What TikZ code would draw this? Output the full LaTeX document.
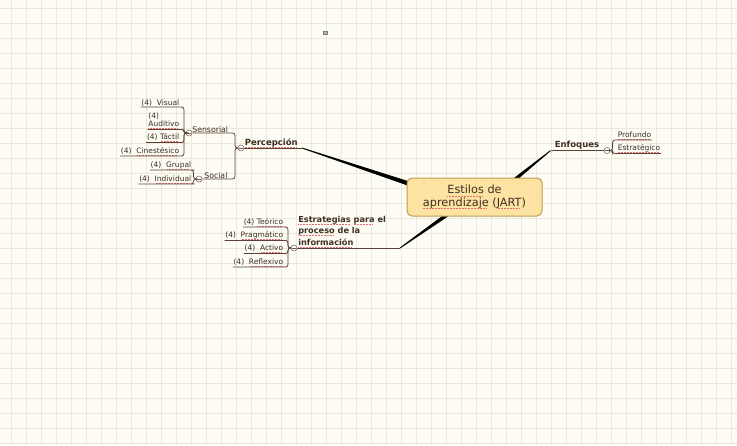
\documentclass[tikz,border=0pt]{standalone}
\usepackage{fontspec}
\setmainfont{DejaVu Sans}
\usetikzlibrary{calc}
\definecolor{bgc}{HTML}{FDFDF6}
\definecolor{gridc}{HTML}{ECE8DA}
\definecolor{txt}{HTML}{3E2E22}
\definecolor{ulc}{HTML}{5A4035}
\definecolor{splred}{HTML}{E07070}
\definecolor{boxfill}{HTML}{FCE3A2}
\definecolor{boxdraw}{HTML}{C09A55}
\definecolor{circc}{HTML}{6A5A50}
\newlength\sqlen
\newcommand\sq[1]{\settowidth\sqlen{#1}\rlap{#1}{\color{splred}\leaders\hbox{\raisebox{-0.45ex}{\rule{0.9pt}{0.45pt}}\kern0.6pt}\hskip\sqlen}}
\newcommand\taper[4]{%
  \fill[black] ($(#1)!#3!90:(#2)$) -- ($(#2)!#4!-90:(#1)$) -- ($(#2)!#4!90:(#1)$) -- ($(#1)!#3!-90:(#2)$) -- cycle;}
\tikzset{
  leaf/.style={inner sep=0.6pt, text=txt, font=\fontsize{7.5}{8.6}\selectfont},
  sub/.style={inner sep=0.6pt, text=txt, font=\fontsize{7.8}{9}\selectfont},
  topic/.style={inner sep=0.6pt, text=txt, font=\bfseries\fontsize{8.5}{9.5}\selectfont},
  ul/.style={draw=ulc, line width=0.8pt, rounded corners=2.5pt},
  collapse/.style={circle, draw=circc, fill=white, minimum size=6pt, inner sep=0pt, line width=0.5pt,
    path picture={\draw[circc, line width=0.5pt] ([xshift=1.4pt]path picture bounding box.west) -- ([xshift=-1.4pt]path picture bounding box.east);}},
  central/.style={draw=boxdraw, fill=boxfill, line width=1pt, rounded corners=5pt, minimum width=135pt, minimum height=38pt, align=center, text=txt, font=\fontsize{11.3}{12.5}\selectfont}
}
\begin{document}
\begin{tikzpicture}[x=1pt,y=-1pt]
\fill[bgc] (0,0) rectangle (737,445);
\useasboundingbox (0,0) rectangle (737,445);
\foreach \k in {0,...,48} \draw[gridc, line width=0.6pt] ({11.7+15*\k},0) -- ++(0,445);
\foreach \k in {0,...,29} \draw[gridc, line width=0.6pt] (0,{8.3+15*\k}) -- ++(737,0);

% small marker
\draw[gray, fill=gray!60, line width=0.4pt] (323,31.5) rectangle (327.5,34.5);

% central node
\coordinate (cpos) at (474.5,197);
% tapered connectors (drawn before the central box)
\coordinate (percEnd) at (302,148);
\coordinate (estEnd) at (400,248);
\coordinate (enfEnd) at (550,151);
\taper{percEnd}{440,194}{0.45pt}{2.7pt}
\taper{estEnd}{468,200}{0.45pt}{2.6pt}
\taper{enfEnd}{492,198}{0.45pt}{2.6pt}
\node[central] (core) at (cpos) {\sq{Estilos} de\\ \sq{aprendizaje} (\sq{JART})};

% ---------- Percepcion ----------
\node[collapse] (percC) at (241,148) {};
\node[topic, anchor=south west] (perc) at (244,148) {\sq{Percepción}};
\draw[ul] (percC.east) -- (percEnd);

\node[collapse] (sensC) at (189,133) {};
\node[sub, anchor=south west] (sens) at (191.5,133) {Sensorial};
\draw[ul] (sensC.east) -- (235,133) -- (235,148) -- (percC.west);

\node[collapse] (socC) at (199,179) {};
\node[sub, anchor=south west] (soc) at (203.5,179) {Social};
\draw[ul] (socC.east) -- (235,179) -- (235,148) -- (percC.west);

\node[leaf, anchor=south east] (visual) at (180,107) {(4)\ \ Visual};
\node[leaf, anchor=south east, align=left] (audit) at (180,129.5) {(4)\\\sq{Auditivo}};
\node[leaf, anchor=south east] (tactil) at (180,142.5) {(4) \sq{Táctil}};
\node[leaf, anchor=south east] (cines) at (180,156) {(4)\ \ \sq{Cinestésico}};
\foreach \n in {visual,audit,tactil,cines}
  \draw[ul] (\n.south west) -- (\n.south east) -- (184,0 |- \n.south east) -- (184,133) -- (sensC.west);

\node[leaf, anchor=south east] (grupal) at (192,170) {(4)\ \ \sq{Grupal}};
\node[leaf, anchor=south east] (indiv) at (192,184) {(4)\ \ \sq{Individual}};
\foreach \n in {grupal,indiv}
  \draw[ul] (\n.south west) -- (\n.south east) -- (193.5,0 |- \n.south east) -- (193.5,179) -- (socC.west);

% ---------- Estrategias ----------
\node[collapse] (estC) at (294,248) {};
\node[topic, anchor=south west, align=left, font=\bfseries\fontsize{8.2}{11.5}\selectfont] (estr) at (297.5,248)
  {\sq{Estrategias} \sq{para} el\\ \sq{proceso} de la\\ \sq{información}};
\draw[ul] (estC.east) -- (estEnd);

\node[leaf, anchor=south east] (teor) at (284,227) {(4) \sq{Teórico}};
\node[leaf, anchor=south east] (prag) at (284,240.5) {(4)\ \ \sq{Pragmático}};
\node[leaf, anchor=south east] (activo) at (284,253.5) {(4)\ \ \sq{Activo}};
\node[leaf, anchor=south east] (refl) at (284,267) {(4)\ \ \sq{Reflexivo}};
\foreach \n in {teor,prag,activo,refl}
  \draw[ul] (\n.south west) -- (\n.south east) -- (288,0 |- \n.south east) -- (288,248) -- (estC.west);

% ---------- Enfoques ----------
\node[collapse] (enfC) at (607,150.5) {};
\node[topic, anchor=south west] (enf) at (554,150.5) {Enfoques};
\draw[ul] (enfEnd) -- (552,150.5) -- (enfC.west);

\node[leaf, anchor=south west] (prof) at (617,140) {\sq{Profundo}};
\node[leaf, anchor=south west] (estrat) at (617,153.5) {\sq{Estratégico}};
\foreach \n in {prof,estrat}
  \draw[ul] (enfC.east) -- (612.5,150.5) -- (612.5,0 |- \n.south west) -- (\n.south west) -- (\n.south east);
\end{tikzpicture}
\end{document}
